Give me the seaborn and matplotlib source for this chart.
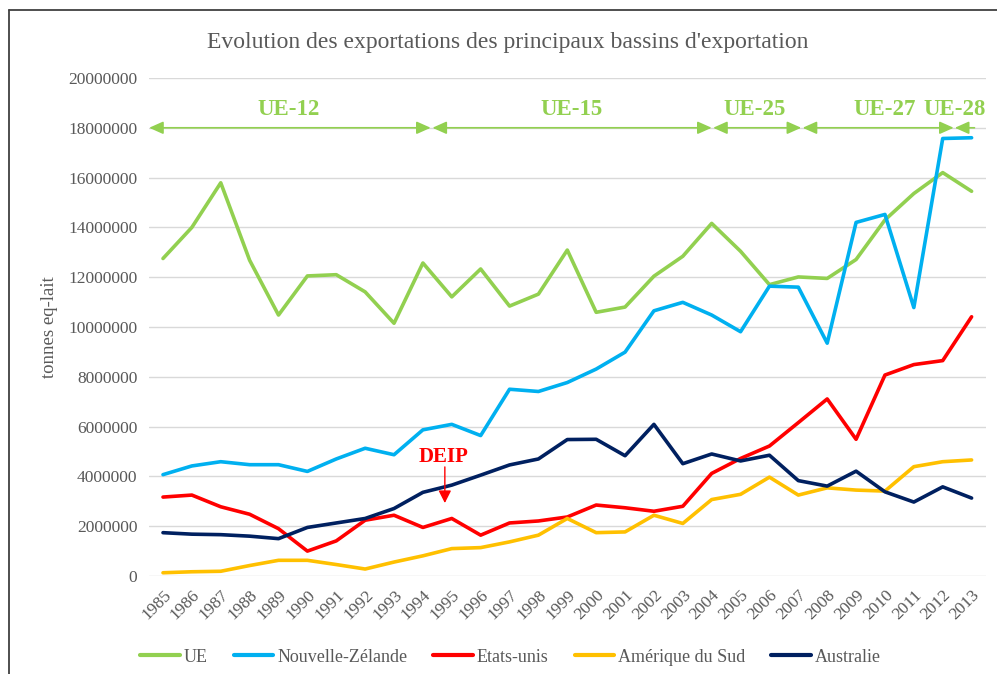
import pandas as pd
import seaborn as sns
import matplotlib.pyplot as plt
from matplotlib.lines import Line2D

# Data
years = list(range(1985, 2014))
ue = [12750000, 14000000, 15790000, 12680000, 10480000, 12050000, 12100000, 11410000, 10150000, 12570000,
      11210000, 12330000, 10840000, 11320000, 13090000, 10590000, 10800000, 12040000, 12840000, 14160000,
      13040000, 11700000, 12010000, 11950000, 12710000, 14300000, 15360000, 16200000, 15450000]
nz = [4070000, 4420000, 4590000, 4470000, 4470000, 4200000, 4700000, 5130000, 4870000, 5870000,
      6090000, 5640000, 7500000, 7410000, 7770000, 8310000, 8990000, 10650000, 10990000, 10480000,
      9810000, 11640000, 11600000, 9350000, 14200000, 14520000, 10780000, 17570000, 17600000]
usa = [3170000, 3250000, 2780000, 2480000, 1900000, 1000000, 1410000, 2240000, 2440000, 1950000,
       2310000, 1640000, 2130000, 2210000, 2370000, 2850000, 2740000, 2600000, 2800000, 4120000,
       4720000, 5220000, 6160000, 7110000, 5490000, 8070000, 8490000, 8650000, 10410000]
sud = [130000, 170000, 190000, 420000, 630000, 630000, 460000, 280000, 560000, 810000,
       1100000, 1140000, 1370000, 1640000, 2310000, 1740000, 1770000, 2440000, 2110000, 3070000,
       3280000, 3970000, 3250000, 3540000, 3450000, 3410000, 4390000, 4590000, 4660000]
aus = [1740000, 1680000, 1660000, 1600000, 1500000, 1950000, 2130000, 2310000, 2710000, 3360000,
       3650000, 4050000, 4460000, 4700000, 5480000, 5490000, 4830000, 6090000, 4510000, 4900000,
       4620000, 4850000, 3830000, 3610000, 4210000, 3380000, 2970000, 3580000, 3130000]

series_names = ["UE", "Nouvelle-Zélande", "Etats-unis", "Amérique du Sud", "Australie"]
colors = ["#92D050", "#00B0F0", "#FF0000", "#FFC000", "#002060"]

# EU enlargement periods (start, end, label)
periods = [(1984.52, 1994.27, "UE-12"), (1994.33, 2004.0, "UE-15"), (2004.05, 2007.1, "UE-25"),
           (2007.15, 2012.38, "UE-27"), (2012.42, 2013.1, "UE-28")]
label_x = [1989.36, 1999.15, 2005.5, 2009.98, 2012.4]

df = pd.DataFrame({"annee": years * 5,
                   "valeur": ue + nz + usa + sud + aus,
                   "bassin": sum([[n] * len(years) for n in series_names], [])})

sns.set_style("white")
plt.rcParams['font.family'] = ['Liberation Serif', 'DejaVu Serif']
grey = "#595959"

fig = plt.figure(figsize=(9.97, 6.74), dpi=100)
ax = fig.add_axes([0.149, 0.1454, 0.840, 0.7389])

sns.lineplot(data=df, x="annee", y="valeur", hue="bassin", hue_order=series_names,
             palette=colors, linewidth=2.6, ax=ax, legend=True)

ax.set_xlim(1984.5, 2013.5)
ax.set_ylim(0, 20000000)
ax.set_yticks(range(0, 20000001, 2000000))
ax.set_yticklabels([str(v) for v in range(0, 20000001, 2000000)], fontsize=12.5, color=grey)
ax.set_xticks(years)
ax.set_xticklabels([str(y) for y in years], rotation=45, ha="right", rotation_mode="anchor",
                   fontsize=12.5, color=grey)
ax.tick_params(axis="both", length=0, pad=8)
ax.yaxis.grid(True, color="#D9D9D9", linewidth=1)
ax.set_axisbelow(True)
for s in ax.spines.values():
    s.set_visible(False)
ax.set_xlabel("")
ax.set_ylabel("tonnes eq-lait", fontsize=13.5, color=grey, labelpad=7)

# enlargement arrows
green = "#92D050"
for (x0, x1, lab), lx in zip(periods, label_x):
    style = "-|>" if lab == "UE-28" else "<|-|>"
    ax.annotate("", xy=(x0, 18000000), xytext=(x1, 18000000),
                arrowprops=dict(arrowstyle=style + ",head_length=0.85,head_width=0.38",
                                color=green, lw=1.2, shrinkA=0, shrinkB=0))
    ax.text(lx, 18750000, lab, color=green, fontsize=16.5, fontweight="bold",
            ha="center", va="center")

# DEIP marker
ax.text(1994.7, 4760000, "DEIP", color="#FF0000", fontsize=15, fontweight="bold",
        ha="center", va="center")
ax.annotate("", xy=(1994.76, 2930000), xytext=(1994.76, 4380000),
            arrowprops=dict(arrowstyle="-|>,head_length=0.75,head_width=0.38", color="#FF0000",
                            lw=1, shrinkA=0, shrinkB=0))

fig.text(0.509, 0.937, "Evolution des exportations des principaux bassins d'exportation",
         ha="center", va="center", fontsize=17, color=grey)

handles, labels = ax.get_legend_handles_labels()
for h in handles:
    h.set_linewidth(3)
ax.legend(handles, labels, loc="center", bbox_to_anchor=(0.512, 0.025),
          bbox_transform=fig.transFigure, ncol=5, frameon=False, fontsize=13,
          labelcolor=grey, handlelength=2.2, handletextpad=0.2, columnspacing=1.45)

# outer frame (top and left edges visible in the reference)
fig.add_artist(Line2D([9 / 997, 9 / 997], [0, 1 - 10 / 674], color="#404040", lw=1.3))
fig.add_artist(Line2D([9 / 997, 1], [1 - 10 / 674, 1 - 10 / 674], color="#404040", lw=1.3))

fig.savefig("out.png", dpi=100)
